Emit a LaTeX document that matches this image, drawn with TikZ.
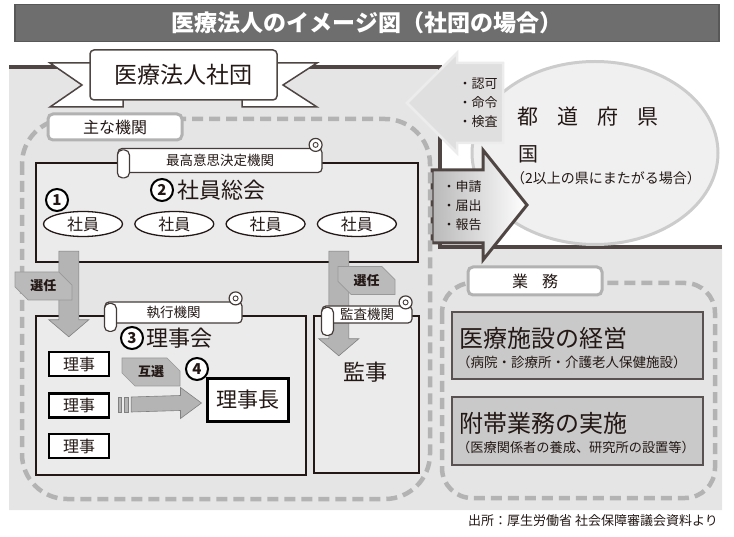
\documentclass[tikz,border=0pt]{standalone}
\usepackage{fontspec}
\setmainfont{Noto Sans CJK JP}
\usetikzlibrary{arrows.meta,positioning,shapes.geometric,shapes.misc,calc}
\definecolor{bgray}{HTML}{E5E5E5}
\definecolor{boxgray}{HTML}{EBEBEB}
\definecolor{inkc}{HTML}{231815}
\definecolor{dashgray}{HTML}{B3B3B3}
\definecolor{taggray}{HTML}{BABABA}
\definecolor{arrowgray}{HTML}{B4B4B4}
\definecolor{workgray}{HTML}{C9C9C9}
\definecolor{titlegray}{HTML}{6E6E6E}
\newcommand{\fs}[1]{\fontsize{#1}{#1}\selectfont}
\newcommand{\scrollcurls}[1]{%
  \draw[scrollline,rounded corners=5] ($(#1.north west)+(0,2)$) rectangle ($(#1.north west)+(12,30)$);
  \draw[scrollline] ($(#1.north east)+(-7,-3)$) circle[radius=6.5];
  \draw[scrollline,line width=.9pt] ($(#1.north east)+(-7,-3)$) circle[radius=2.5];}
\newcommand{\downfat}[2]{%
  \filldraw[fatarrow] ($(#1)+(-10,0)$) -- ($(#2)+(-10,-17)$) -- ($(#2)+(-20,-17)$) -- (#2)
    -- ($(#2)+(20,-17)$) -- ($(#2)+(10,-17)$) -- ($(#1)+(10,0)$) -- cycle;}
\tikzset{
  organ/.style={draw=inkc,line width=2.4pt,fill=boxgray},
  scroll/.style={draw=inkc!85,line width=1.2pt,fill=white,rounded corners=4,inner sep=0,minimum height=24,font=\fs{13.5}},
  scrollline/.style={draw=inkc!85,line width=1.2pt,fill=white},
  member/.style={ellipse,draw=inkc,line width=1.3pt,fill=white,minimum width=79,minimum height=25,inner sep=0,font=\fs{16}},
  riji/.style={draw=black,line width=2.5pt,fill=white,minimum width=60,minimum height=24,inner sep=0,font=\fs{16}},
  num/.style={circle,draw=black,line width=2pt,fill=white,minimum size=22,inner sep=0,font=\bfseries\fs{15}},
  tagbox/.style={chamfered rectangle,chamfered rectangle corners={north east,south west},chamfered rectangle sep=7pt,
    fill=taggray,draw=gray!80,line width=.6pt,inner sep=0,minimum width=57,minimum height=28,font=\bfseries\fs{13}},
  fatarrow/.style={fill=arrowgray,draw=gray,line width=.6pt},
  labelbox/.style={draw=gray!60,line width=3pt,fill=white,rounded corners=5,minimum width=134,minimum height=26,inner sep=0,font=\fs{16}},
  dashline/.style={draw=dashgray,line width=4.5pt,dash pattern=on 11pt off 6pt},
  ribbon/.style={fill=white,draw=inkc!80,line width=1.5pt},
  workbox/.style={draw=inkc!75,line width=1.2pt,fill=workgray,minimum width=251,minimum height=67},
  plain/.style={inner sep=0}
}
\begin{document}
\begin{tikzpicture}[x=1pt,y=-1pt,every node/.style={text=inkc}]
\useasboundingbox (0,0) rectangle (734,537);
% title bar
\node[fill=titlegray,draw=titlegray!80!black,line width=1.5pt,minimum width=704,minimum height=37,text=white,font=\bfseries\fs{23}] (title) at (367,23) {医療法人のイメージ図（社団の場合）};
% ground of the corporation
\fill[bgray] (9,67) -- (440,67) -- (440,247) -- (722,247) -- (722,510) -- (9,510) -- cycle;
\draw[inkc!80,line width=3.5pt] (9,67) -- (440,67) -- (440,247) -- (722,247);
% prefecture
\node[ellipse,fill=gray!12,draw=gray!40,line width=3pt,minimum width=246,minimum height=183] (pref) at (595,153) {};
\node[plain,anchor=west,font=\fs{21}] (todo) at (517,117) {都\hspace{19pt}道\hspace{19pt}府\hspace{19pt}県};
\node[plain,anchor=west,font=\fs{20}] (kuni) at (518,154) {国};
\node[plain,anchor=west,font=\fs{14}] (kuninote) at (511,178) {（2以上の県にまたがる場合）};
\filldraw[fill=gray!25,draw=white!85!gray,line width=2.5pt] (503,63) -- (457,63) -- (457,53) -- (407,103) -- (457,153) -- (457,143) -- (503,143) -- cycle;
\node[plain,align=left,font=\fontsize{13}{19}\selectfont] (order) at (478,103) {・認可\\・命令\\・検査};
\path[draw=inkc!80,line width=3pt,left color=gray!55,right color=white] (432,170) -- (483,170) -- (483,150) -- (527,205) -- (483,260) -- (483,243) -- (432,243) -- cycle;
\node[plain,align=left,font=\fontsize{13}{19}\selectfont] (report) at (462,206) {・申請\\・届出\\・報告};
% banner
\filldraw[ribbon] (50,63) -- (123,63) -- (123,107) -- (50,107) -- (82,85) -- cycle;
\filldraw[ribbon] (317,63) -- (242,63) -- (242,107) -- (317,107) -- (283,85) -- cycle;
\node[ribbon,rounded corners=4,minimum width=187,minimum height=50,font=\fs{23}] (corp) at (183.5,75) {医療法人社団};
% main organs
\draw[dashline,rounded corners=45] (22,119) rectangle (430,499);
\node[labelbox] (mainlbl) at (115,127) {主な機関};
\node[organ,minimum width=382,minimum height=99] (sokai) at (227,212.5) {};
\node[scroll,minimum width=204] (top) at (220,160.5) {最高意思決定機関};
\scrollcurls{top}
\node[num] (n1) at (57,200) {1};
\node[num] (n2) at (162,190) {2};
\node[plain,right=3pt of n2,font=\fs{22}] (sokaitxt) {社員総会};
\node[member] (m1) at (83,224) {社員};
\node[member,right=11pt of m1] (m2) {社員};
\node[member,right=11pt of m2] (m3) {社員};
\node[member,right=11pt of m3] (m4) {社員};
\node[organ,minimum width=270,minimum height=159] (rijikai) at (171,395.5) {};
\node[scroll,minimum width=137,minimum height=21] (exec) at (173.5,312.5) {執行機関};
\scrollcurls{exec}
\node[num] (n3) at (132,338) {3};
\node[plain,right=2pt of n3,font=\fs{22}] (rijikaitxt) {理事会};
\node[riji] (r1) at (79,364) {理事};
\node[riji,below=15pt of r1] (r2) {理事};
\node[riji,below=14pt of r2] (r3) {理事};
\node[riji,minimum width=81,minimum height=42,line width=3pt,font=\fs{21}] (chair) at (247.5,400) {理事長};
\node[num] (n4) at (197,369) {4};
\node[organ,minimum width=105,minimum height=157] (kanji) at (366.5,394.5) {};
\node[plain,font=\fs{22}] (kanjitxt) at (365,372) {監事};
% election arrows
\coordinate (sel1) at ($(sokai.south west)+(34,-12)$);
\coordinate (sel1t) at ($(rijikai.north west)+(34,22)$);
\coordinate (sel2) at ($(sokai.south west)+(304,-12)$);
\coordinate (sel2t) at ($(kanji.north west)+(26,41)$);
\downfat{sel1}{sel1t}
\downfat{sel2}{sel2t}
\node[scroll,minimum width=90,minimum height=17] (audit) at (367,314.5) {監査機関};
\scrollcurls{audit}
\node[tagbox] (sel1tag) at (43.5,286) {選任};
\node[tagbox] (sel2tag) at (366.5,280.5) {選任};
% mutual election
\coordinate (ga) at ($(r2.east)+(21,-1)$);
\coordinate (gb) at ($(chair.west)+(-4,3)$);
\filldraw[fatarrow] ($(ga)+(0,-7.5)$) -- ($(gb)+(-21,-7.5)$) -- ($(gb)+(-21,-15.5)$) -- (gb) -- ($(gb)+(-21,15.5)$) -- ($(gb)+(-21,7.5)$) -- ($(ga)+(0,7.5)$) -- cycle;
\filldraw[fatarrow] ($(ga)+(-13,-7.5)$) rectangle ($(ga)+(-9.5,7.5)$);
\filldraw[fatarrow] ($(ga)+(-6.5,-7.5)$) rectangle ($(ga)+(-3,7.5)$);
\node[tagbox,minimum width=58] (gosen) at (151,372) {互選};
% business
\draw[dashline,rounded corners=30] (442,283) rectangle (715,498);
\node[labelbox,minimum height=28] (worklbl) at (535,281) {業\hspace{14pt}務};
\node[workbox] (mgmt) at (577.5,345.5) {};
\node[plain,anchor=west,font=\fs{24}] (mgmttxt) at (459,338) {医療施設の経営};
\node[plain,anchor=west,font=\fs{13.5}] (mgmtsub) at (457,362) {（病院・診療所・介護老人保健施設）};
\node[workbox,minimum height=68] (side) at (577.5,431) {};
\node[plain,anchor=west,font=\fs{24}] (sidetxt) at (459,423) {附帯業務の実施};
\node[plain,anchor=west,font=\fs{13.2}] (sidesub) at (457,447) {（医療関係者の養成、研究所の設置等）};
% source
\node[plain,anchor=east,font=\fs{13}] (src) at (718,521) {出所：厚生労働省 社会保障審議会資料より};
\end{tikzpicture}
\end{document}
